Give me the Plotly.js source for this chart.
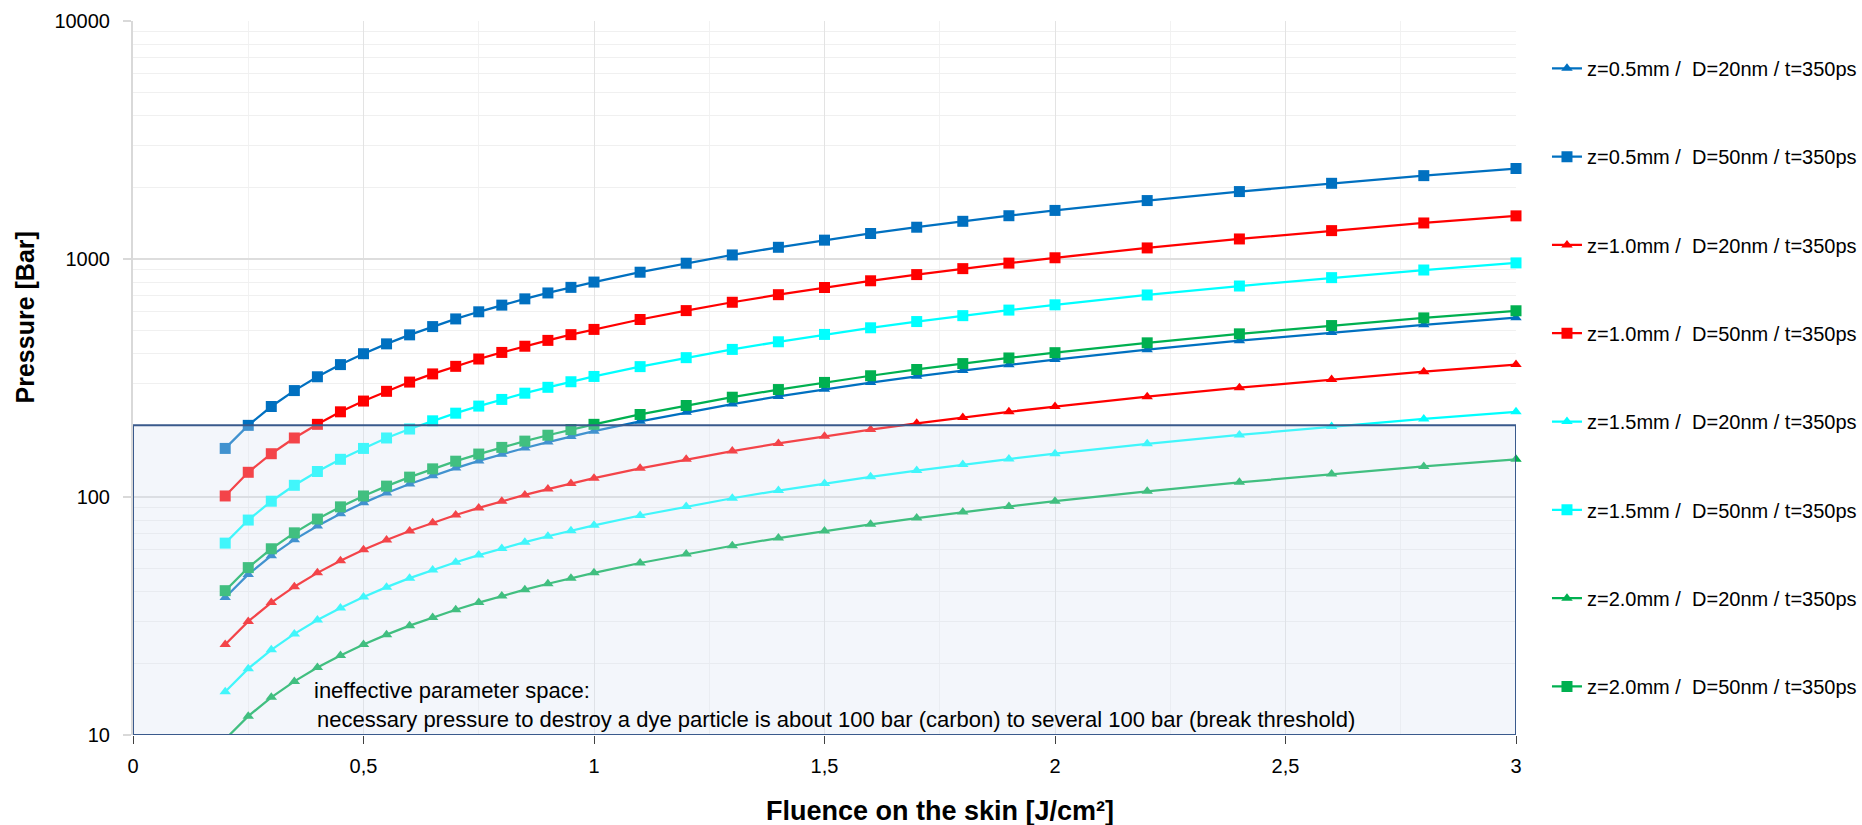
<!DOCTYPE html>
<html>
<head>
<meta charset="utf-8">
<script src="https://cdn.plot.ly/plotly-3.0.1.min.js"></script>
<style>
html,body{margin:0;padding:0;background:#fff;}
#chart{width:1862px;height:825px;}
</style>
</head>
<body>
<div id="chart"></div>
<script>
// Fluence on the skin [J/cm²]
const fluence = [0.2,0.25,0.3,0.35,0.4,0.45,0.5,0.55,0.6,0.65,0.7,0.75,0.8,0.85,0.9,0.95,1.0,
  1.1,1.2,1.3,1.4,1.5,1.6,1.7,1.8,1.9,2.0,2.2,2.4,2.6,2.8,3.0];

// Pressure [Bar]
const z05_D20 = [37.8,47.3,56.7,66.2,75.6,85.1,94.5,104,113.4,122.9,132.3,141.8,151.2,160.7,170.1,179.6,189,
  207.9,226.8,245.7,264.6,283.5,302.4,321.3,340.2,359.1,378,415.8,453.6,491.4,529.2,567];
const z05_D50 = [160,200,240,280,320,360,400,440,480,520,560,600,640,680,720,760,800,
  880,960,1040,1120,1200,1280,1360,1440,1520,1600,1760,1920,2080,2240,2400];
const z10_D20 = [24,30,36,42,48,54,60,66,72,78,84,90,96,102,108,114,120,
  132,144,156,168,180,192,204,216,228,240,264,288,312,336,360];
const z10_D50 = [101,127,152,177,202,228,253,278,304,329,354,380,405,430,455,481,506,
  557,607,658,708,759,810,860,911,961,1012,1113,1214,1316,1417,1518];
const z15_D20 = [15.2,19,22.8,26.6,30.4,34.2,38,41.8,45.6,49.4,53.2,57,60.8,64.6,68.4,72.2,76,
  83.6,91.2,98.8,106.4,114,121.6,129.2,136.8,144.4,152,167.2,182.4,197.6,212.8,228];
const z15_D50 = [64,80,96,112,128,144,160,177,193,209,225,241,257,273,289,305,321,
  353,385,417,449,482,514,546,578,610,642,706,770,835,899,963];
const z20_D20 = [9.6,12,14.4,16.8,19.2,21.6,24,26.4,28.8,31.2,33.6,36,38.4,40.8,43.2,45.6,48,
  52.8,57.6,62.4,67.2,72,76.8,81.6,86.4,91.2,96,105.6,115.2,124.8,134.4,144];
const z20_D50 = [40.4,50.5,60.6,70.7,80.8,90.9,101,111.1,121.2,131.3,141.4,151.5,161.6,171.7,181.8,191.9,202,
  222.2,242.4,262.6,282.8,303,323.2,343.4,363.6,383.8,404,444.4,484.8,525.2,565.6,606];

const seriesNames = [
  "z=0.5mm /  D=20nm / t=350ps",
  "z=0.5mm /  D=50nm / t=350ps",
  "z=1.0mm /  D=20nm / t=350ps",
  "z=1.0mm /  D=50nm / t=350ps",
  "z=1.5mm /  D=20nm / t=350ps",
  "z=1.5mm /  D=50nm / t=350ps",
  "z=2.0mm /  D=20nm / t=350ps",
  "z=2.0mm /  D=50nm / t=350ps"
];
const seriesValues = [z05_D20, z05_D50, z10_D20, z10_D50, z15_D20, z15_D50, z20_D20, z20_D50];
const seriesColors = ["#0070C0","#0070C0","#FF0000","#FF0000","#00FFFF","#00FFFF","#00B050","#00B050"];
const seriesSymbols = ["triangle-up","square","triangle-up","square","triangle-up","square","triangle-up","square"];

// threshold region: ineffective parameter space
const regionX = [0, 3];
const regionY = [10, 200];

const yTickVals = [10, 100, 1000, 10000];
const yTickText = ["10", "100", "1000", "10000"];

const FONT = "Liberation Sans, Arial, sans-serif";

const traces = seriesNames.map((name, i) => ({
  type: "scatter",
  mode: "lines+markers",
  name: name,
  x: fluence,
  y: seriesValues[i],
  legendgroup: "g" + i,
  line: {color: seriesColors[i], width: 2.25},
  marker: {
    color: seriesColors[i],
    symbol: seriesSymbols[i],
    size: seriesSymbols[i] === "square" ? 11 : 10
  },
  cliponaxis: false
}));

const layout = {
  width: 1862,
  height: 825,
  margin: {l: 133, r: 346, t: 21, b: 90, pad: 0, autoexpand: false},
  paper_bgcolor: "#ffffff",
  plot_bgcolor: "#ffffff",
  separators: ",.",
  font: {family: FONT, size: 20, color: "#000000"},
  showlegend: true,
  legend: {
    x: 1.0224, xanchor: "left",
    y: 0.961, yanchor: "top",
    font: {family: FONT, size: 20, color: "#000000"},
    tracegroupgap: 59.3,
    bgcolor: "rgba(0,0,0,0)",
    borderwidth: 0
  },
  xaxis: {
    range: [0, 3],
    tick0: 0, dtick: 0.5,
    ticks: "outside", ticklen: 8, tickwidth: 1, tickcolor: "#404040",
    ticklabelstandoff: 5,
    showgrid: true, gridcolor: "#E3E3E3", gridwidth: 1,
    minor: {dtick: 0.25, showgrid: true, gridcolor: "#F2F2F2", gridwidth: 1, ticks: ""},
    zeroline: false,
    showline: false,
    tickfont: {family: FONT, size: 20, color: "#000000"}
  },
  yaxis: {
    type: "log",
    range: [1, 4],
    tickmode: "array",
    tickvals: yTickVals,
    ticktext: yTickText,
    ticks: "outside", ticklen: 8, tickwidth: 1.5, tickcolor: "#D9D9D9",
    ticklabelstandoff: 9,
    showgrid: true, gridcolor: "#DDDDDD", gridwidth: 1.5,
    minor: {dtick: "D1", showgrid: true, gridcolor: "#F0F0F0", gridwidth: 1, ticks: ""},
    zeroline: false,
    showline: true, linecolor: "#D9D9D9", linewidth: 2,
    tickfont: {family: FONT, size: 20, color: "#000000"}
  },
  shapes: [{
    type: "rect", layer: "above",
    xref: "x", yref: "y",
    x0: regionX[0], x1: regionX[1],
    y0: regionY[0], y1: regionY[1],
    fillcolor: "rgba(215,225,242,0.3)",
    line: {color: "#3A5A8C", width: 2}
  }],
  annotations: [
    {
      xref: "paper", yref: "paper", x: -0.078, y: 0.585,
      xanchor: "center", yanchor: "middle", textangle: -90, showarrow: false,
      text: "<b>Pressure [Bar]</b>",
      font: {family: FONT, size: 25, color: "#000000"}
    },
    {
      xref: "paper", yref: "paper", x: 0.5835, y: -0.107,
      xanchor: "center", yanchor: "middle", showarrow: false,
      text: "<b>Fluence on the skin [J/cm²]</b>",
      font: {family: FONT, size: 27, color: "#000000"}
    },
    {
      xref: "paper", yref: "paper", x: 0.1294, y: 0.0625,
      xanchor: "left", yanchor: "middle", showarrow: false, align: "left",
      text: "ineffective parameter space:",
      font: {family: FONT, size: 22, color: "#000000"}
    },
    {
      xref: "paper", yref: "paper", x: 0.1315, y: 0.0219,
      xanchor: "left", yanchor: "middle", showarrow: false, align: "left",
      text: "necessary pressure to destroy a dye particle is about 100 bar (carbon) to several 100 bar (break threshold)",
      font: {family: FONT, size: 22, color: "#000000"}
    }
  ]
};

Plotly.newPlot("chart", traces, layout, {displayModeBar: false, staticPlot: true});
</script>
</body>
</html>
